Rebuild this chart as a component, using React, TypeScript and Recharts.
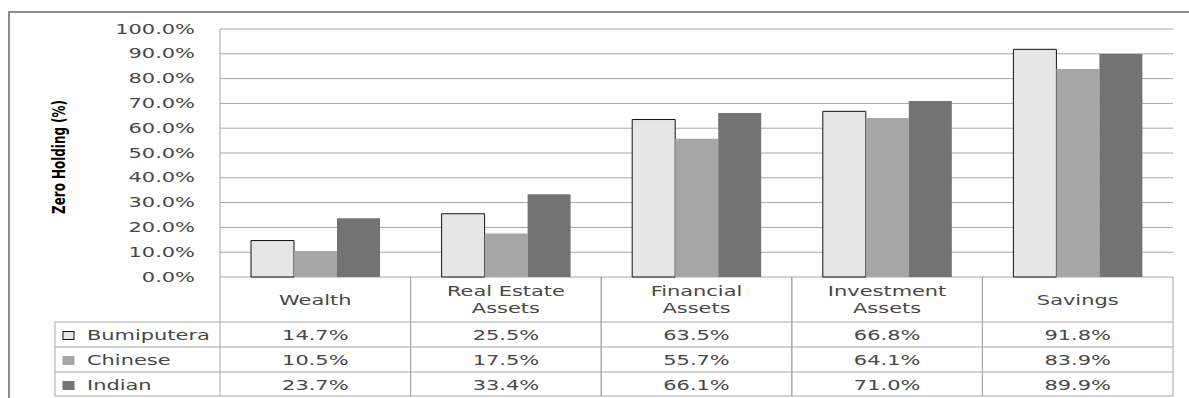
import React from 'react';
import { BarChart, Bar, XAxis, YAxis, CartesianGrid, Legend } from 'recharts';

const categories = ['Wealth', 'Real Estate\nAssets', 'Financial\nAssets', 'Investment\nAssets', 'Savings'];
const bumiputera = [14.7, 25.5, 63.5, 66.8, 91.8];
const chinese = [10.5, 17.5, 55.7, 64.1, 83.9];
const indian = [23.7, 33.4, 66.1, 71.0, 89.9];
const yTicks = [0, 10, 20, 30, 40, 50, 60, 70, 80, 90, 100];

const seriesKeys = ['bumiputera', 'chinese', 'indian'];
const seriesNames = ['Bumiputera', 'Chinese', 'Indian'];
const seriesValues = [bumiputera, chinese, indian];
const seriesFills = ['#e6e6e6', '#a6a6a6', '#737373'];
const seriesStrokes = ['#111111', 'none', 'none'];

const data = categories.map((c, i) => ({
  category: c,
  bumiputera: bumiputera[i],
  chinese: chinese[i],
  indian: indian[i],
}));

const W = 1189;
const H = 398;
const PLOT_LEFT = 220;
const PLOT_RIGHT = 1173;
const PLOT_TOP = 29;
const PLOT_BOTTOM = 277;
const HEADER_H = 45;
const ROW_H = 25;
const LEGEND_LEFT = 55;
const BAND = (PLOT_RIGHT - PLOT_LEFT) / categories.length;
const SX = 1.55;
const TEXT_COLOR = '#474747';
const LINE_COLOR = '#a6a6a6';

const SText = ({ x, y, anchor = 'middle', children }: any) => (
  <text
    transform={`translate(${x},${y}) scale(${SX},1.02)`}
    textAnchor={anchor}
    dominantBaseline="central"
    fontFamily="'DejaVu Sans', Verdana, sans-serif"
    fontSize={13.5}
    fill={TEXT_COLOR}
  >
    {children}
  </text>
);

const YTick = ({ x, y, payload }: any) => (
  <SText x={x} y={y} anchor="end">{Number(payload.value).toFixed(1)}%</SText>
);

const XTick = ({ x, y, payload, index }: any) => {
  const half = BAND / 2;
  const lines = String(payload.value).split('\n');
  const top = y;
  const bottom = top + HEADER_H + ROW_H * seriesValues.length - 1;
  return (
    <g>
      <line x1={x - half} x2={x - half} y1={top} y2={bottom} stroke={LINE_COLOR} strokeWidth={1} />
      <line x1={x + half} x2={x + half} y1={top} y2={bottom} stroke={LINE_COLOR} strokeWidth={1} />
      {lines.map((l, k) => (
        <SText
          key={k}
          x={x}
          y={lines.length === 1 ? top + 23 : top + 14 + k * 17}
        >
          {l}
        </SText>
      ))}
      {seriesValues.map((vals, r) => (
        <g key={r}>
          <line
            x1={x - half}
            x2={x + half}
            y1={top + HEADER_H + r * ROW_H}
            y2={top + HEADER_H + r * ROW_H}
            stroke={LINE_COLOR}
            strokeWidth={1}
          />
          <SText x={x} y={top + HEADER_H + r * ROW_H + ROW_H / 2 + 1}>
            {vals[index].toFixed(1)}%
          </SText>
        </g>
      ))}
      <line x1={x - half} x2={x + half} y1={bottom} y2={bottom} stroke={LINE_COLOR} strokeWidth={1} />
    </g>
  );
};

const LegendTable = ({ payload }: any) => {
  const top = PLOT_BOTTOM + HEADER_H;
  const items = (payload || []).slice(0, seriesNames.length);
  const bottom = top + ROW_H * seriesNames.length - 1;
  return (
    <svg width={PLOT_LEFT} height={H} style={{ display: 'block' }}>
      <line x1={LEGEND_LEFT} x2={LEGEND_LEFT} y1={top} y2={bottom} stroke={LINE_COLOR} strokeWidth={1} />
      {items.map((it: any, r: number) => {
        const cy = top + r * ROW_H + ROW_H / 2 + 1;
        return (
          <g key={r}>
            <line x1={LEGEND_LEFT} x2={PLOT_LEFT} y1={top + r * ROW_H} y2={top + r * ROW_H} stroke={LINE_COLOR} strokeWidth={1} />
            <rect
              x={63}
              y={cy - 4}
              width={11}
              height={8}
              fill={seriesFills[r]}
              stroke={seriesStrokes[r] === 'none' ? seriesFills[r] : seriesStrokes[r]}
              strokeWidth={1}
            />
            <SText x={87} y={cy} anchor="start">{it.value}</SText>
          </g>
        );
      })}
      <line x1={LEGEND_LEFT} x2={PLOT_LEFT} y1={bottom} y2={bottom} stroke={LINE_COLOR} strokeWidth={1} />
    </svg>
  );
};

const YLabel = ({ viewBox }: any) => {
  const cy = viewBox ? viewBox.y + viewBox.height / 2 + 4 : 157;
  return (
    <text
      transform={`translate(59,${cy}) rotate(-90)`}
      textAnchor="middle"
      dominantBaseline="central"
      fontFamily="'Liberation Sans Narrow', 'DejaVu Sans Condensed', 'Arial Narrow', sans-serif"
      fontWeight="bold"
      fontSize={17}
      fill="#000"
      textLength={114}
      lengthAdjust="spacingAndGlyphs"
    >
      Zero Holding (%)
    </text>
  );
};

export default function App() {
  return (
    <div style={{ position: 'absolute', left: 0, top: 0, width: W, height: H, background: '#fff' }}>
      <div
        style={{
          position: 'absolute',
          left: 8,
          top: 11,
          width: W - 8,
          height: H - 11,
          borderTop: '2px solid #8c8c8c',
          borderLeft: '2px solid #8c8c8c',
          boxSizing: 'border-box',
        }}
      />
      <BarChart
        width={W}
        height={H}
        data={data}
        margin={{ top: PLOT_TOP, right: W - PLOT_RIGHT, bottom: 0, left: 0 }}
        barCategoryGap={31}
        barGap={0}
      >
        <CartesianGrid vertical={false} horizontal={true} stroke={LINE_COLOR} strokeWidth={1} />
        <XAxis
          dataKey="category"
          height={H - PLOT_BOTTOM}
          axisLine={false}
          tickLine={false}
          tickSize={0}
          tickMargin={0}
          interval={0}
          tick={<XTick />}
        />
        <YAxis
          width={PLOT_LEFT}
          domain={[0, 100]}
          ticks={yTicks}
          interval={0}
          axisLine={{ stroke: LINE_COLOR }}
          tickLine={false}
          tickSize={0}
          tickMargin={25}
          tick={<YTick />}
          label={<YLabel />}
        />
        <Legend
          layout="horizontal"
          verticalAlign="middle"
          align="center"
          content={<LegendTable />}
          wrapperStyle={{ position: 'absolute', left: 0, top: 0, width: PLOT_LEFT, height: H }}
        />
        {seriesKeys.map((k, i) => (
          <Bar
            key={k}
            dataKey={k}
            name={seriesNames[i]}
            fill={seriesFills[i]}
            stroke={seriesStrokes[i]}
            strokeWidth={1}
            isAnimationActive={false}
          />
        ))}
      </BarChart>
    </div>
  );
}
